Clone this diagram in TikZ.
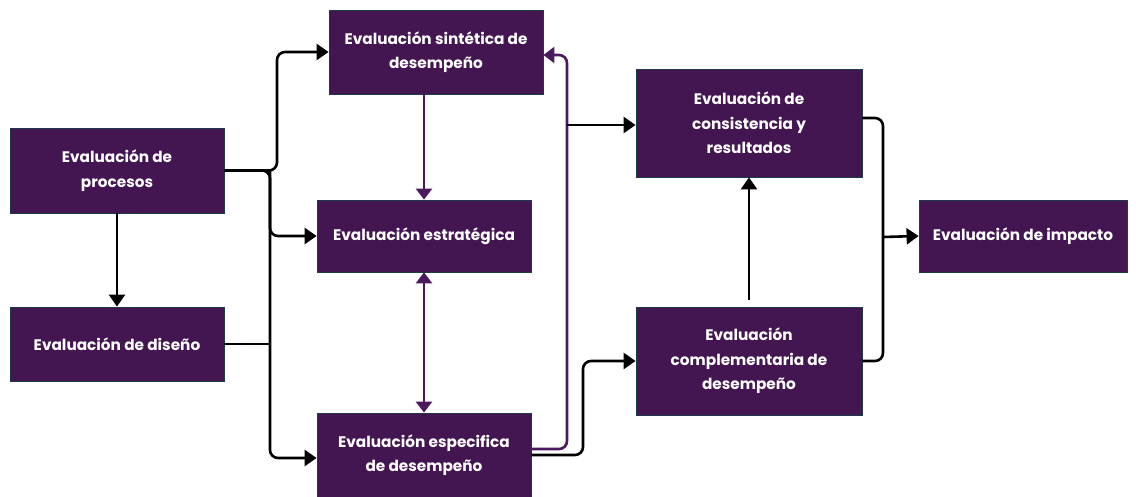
\documentclass[tikz,border=0pt]{standalone}
\usepackage{fontspec}
\setmainfont{Poppins}
\usetikzlibrary{arrows.meta,calc}
\definecolor{boxfill}{HTML}{431551}
\definecolor{boxedge}{HTML}{1D3B47}
\definecolor{plum}{HTML}{4B1A5E}
\tikzset{
  evbox/.style={draw=boxedge, line width=0.8pt, fill=boxfill, text=white,
    font=\bfseries\fontsize{15.3}{24.5}\selectfont, align=center, inner sep=2pt},
  ln/.style={draw=black, line width=2.6pt, rounded corners=8pt},
  arr/.style={ln, -{Triangle[length=12pt,width=16pt]}},
  pln/.style={draw=plum, line width=2.6pt, rounded corners=8pt},
  parr/.style={pln, -{Triangle[length=11pt,width=16pt]}},
  pdarr/.style={pln, {Triangle[length=11pt,width=16pt]}-{Triangle[length=11pt,width=16pt]}},
}
\begin{document}
\begin{tikzpicture}[x=1pt,y=-1pt]
\useasboundingbox (0,0) rectangle (1136,497);
\node[evbox, minimum width=214pt, minimum height=85pt] (proc) at (117,170.5) {Evaluación de\\procesos};
\node[evbox, minimum width=214pt, minimum height=74pt] (dis) at (117,344) {Evaluación de diseño};
\node[evbox, minimum width=214pt, minimum height=84pt] (sin) at (436,52) {Evaluación sintética de\\desempeño};
\node[evbox, minimum width=214pt, minimum height=72pt] (est) at (424,236) {Evaluación estratégica};
\node[evbox, minimum width=214pt, minimum height=84pt] (esp) at (424,455) {Evaluación especifica\\de desempeño};
\node[evbox, minimum width=226pt, minimum height=108pt] (con) at (749,123) {Evaluación de\\consistencia y\\resultados};
\node[evbox, minimum width=226pt, minimum height=108pt] (com) at (749,361) {Evaluación\\complementaria de\\desempeño};
\node[evbox, minimum width=208pt, minimum height=72pt] (imp) at (1023,236) {Evaluación de impacto};

\coordinate (b1) at (277,170.5);
\coordinate (b2) at (270,170.5);
\coordinate (b3) at (270,344);
\coordinate (p1) at (567,250);
\coordinate (p2) at (567,125);
\coordinate (q1) at (583,400);
\coordinate (j) at (883,237);

\draw[arr] (proc.east) -- (b1) |- (sin.west);
\draw[arr] (proc.east) -- (b2) |- (est.west);
\draw[arr] (b2) |- ([yshift=-3pt]esp.west);
\draw[ln] (dis.east) -- (b3);
\draw[arr] (proc.south) -- (dis.north);

\draw[parr] (est.north |- sin.south) -- (est.north);
\draw[pdarr] (est.south) -- (esp.north);
\draw[parr] ([yshift=6pt]esp.east) -| (p1) |- ([yshift=-3pt]sin.east);

\draw[arr] (p2) -- ([yshift=-2pt]con.west);
\draw[arr] (esp.east) -| (q1) |- (com.west);
\draw[arr] ([yshift=7pt]com.north) -- (con.south);
\draw[ln] ([yshift=5pt]con.east) -| (j);
\draw[ln] (com.east) -| (j);
\draw[arr] (j) -- (imp.west);
\end{tikzpicture}
\end{document}
